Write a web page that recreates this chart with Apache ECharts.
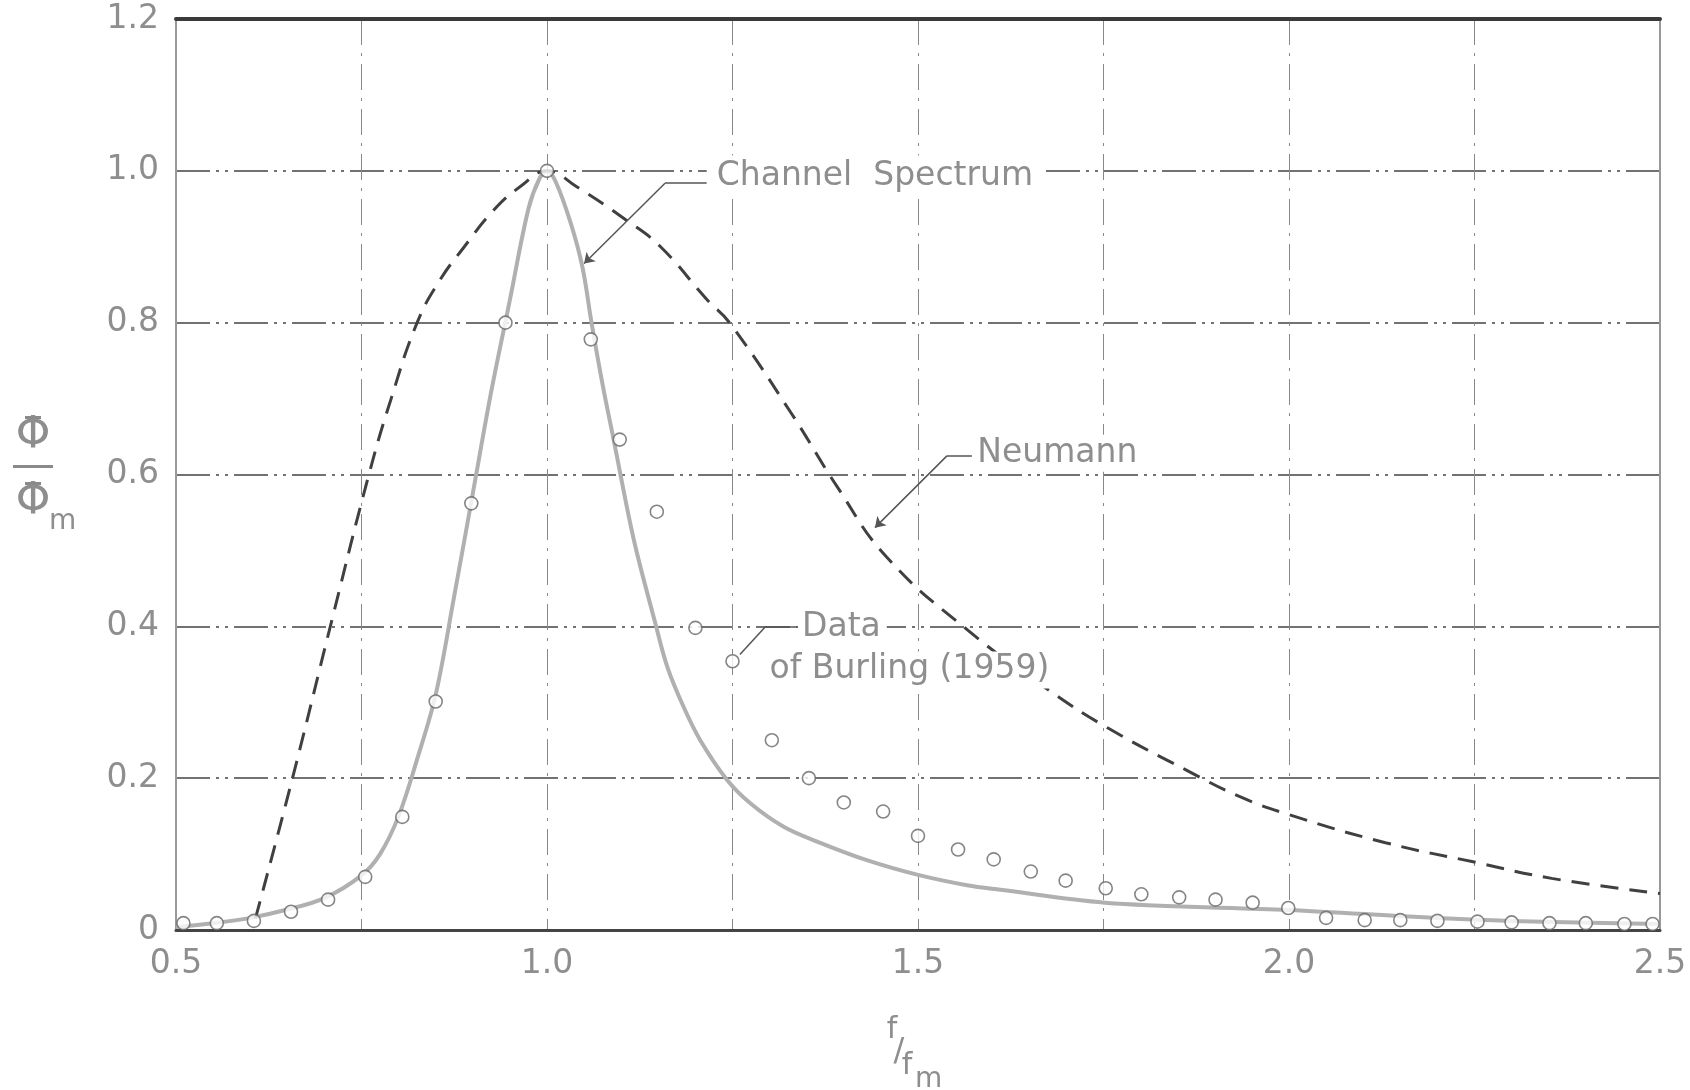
<!DOCTYPE html>
<html lang="en">
<head>
<meta charset="utf-8">
<title>Channel Spectrum</title>
<script src="https://cdn.jsdelivr.net/npm/echarts@6/dist/echarts.min.js"></script>
<style>
  html, body { margin: 0; padding: 0; background: #fff; }
  #chart { width: 1690px; height: 1090px; }
</style>
</head>
<body>
<div id="chart"></div>
<script>
// 横軸の目盛りラベルを表示する値
const xLabelValues = [0.5, 1.0, 1.5, 2.0, 2.5];

// 縦軸の目盛りラベル
const yLabelValues = [0, 0.2, 0.4, 0.6, 0.8, 1.0, 1.2];

// Channel Spectrum（実線）
const channelSpectrum = [
  [0.5, 0.004], [0.55, 0.009], [0.6, 0.016], [0.65, 0.027], [0.7, 0.042],
  [0.75, 0.072], [0.775, 0.1], [0.8, 0.15], [0.825, 0.225], [0.85, 0.31],
  [0.875, 0.44], [0.9, 0.575], [0.925, 0.71], [0.95, 0.83], [0.975, 0.95],
  [0.99, 0.99], [1.0, 1.0], [1.012, 0.985], [1.032, 0.931], [1.048, 0.872],
  [1.06, 0.8], [1.075, 0.718], [1.09, 0.645], [1.117, 0.514],
  [1.146, 0.404], [1.162, 0.347], [1.184, 0.294], [1.2065, 0.25], [1.2425, 0.198],
  [1.274, 0.167], [1.319, 0.136], [1.364, 0.1165], [1.431, 0.092], [1.5, 0.0726],
  [1.566, 0.059], [1.611, 0.053], [1.752, 0.036], [1.95, 0.028], [2.0, 0.0265],
  [2.252, 0.0135], [2.5, 0.008]
];

// Neumann（破線）
const neumann = [
  [0.607, 0.015], [0.657, 0.2], [0.708, 0.4], [0.76, 0.6], [0.79, 0.7],
  [0.825, 0.8], [0.855, 0.855], [0.887, 0.898], [0.928, 0.948], [0.965, 0.98],
  [1.0, 1.0], [1.04, 0.979], [1.107, 0.935], [1.153, 0.9], [1.216, 0.83],
  [1.246, 0.8], [1.329, 0.681], [1.391, 0.584], [1.458, 0.491], [1.567, 0.395],
  [1.676, 0.316], [1.756, 0.266], [1.861, 0.211], [1.933, 0.176], [2.0, 0.152],
  [2.13, 0.115], [2.252, 0.089], [2.354, 0.068], [2.5, 0.048]
];

// Burling (1959) の測定データ（白抜きの丸）
const burling = [
  [0.51, 0.009], [0.555, 0.009], [0.605, 0.012], [0.655, 0.024], [0.705, 0.04],
  [0.755, 0.07], [0.805, 0.149], [0.85, 0.301], [0.898, 0.562], [0.944, 0.8],
  [1.0, 1.0], [1.059, 0.778], [1.098, 0.646], [1.148, 0.551], [1.2, 0.398],
  [1.25, 0.354], [1.303, 0.25], [1.353, 0.2], [1.4, 0.168], [1.453, 0.156],
  [1.5, 0.124], [1.554, 0.106], [1.602, 0.093], [1.652, 0.077], [1.699, 0.065],
  [1.753, 0.055], [1.801, 0.047], [1.852, 0.043], [1.901, 0.04], [1.951, 0.036],
  [1.999, 0.029], [2.05, 0.016], [2.102, 0.013], [2.15, 0.013], [2.2, 0.012],
  [2.254, 0.011], [2.3, 0.01], [2.351, 0.009], [2.4, 0.009], [2.452, 0.008],
  [2.49, 0.008]
];

// 注記の文字
const noteTexts = ['Channel  Spectrum', 'Neumann', 'Data', 'of Burling (1959)'];

const labelColor = '#8e8e8e';
const font = 'DejaVu Sans';

const chart = echarts.init(document.getElementById('chart'));

// 注記の文字ラベル（データ座標で置く）
const noteLabel = (coord, text, padding) => ({
  coord: coord,
  symbol: 'circle',
  symbolSize: 1,
  itemStyle: { color: 'rgba(0,0,0,0)' },
  label: {
    show: true,
    position: 'right',
    distance: 0,
    formatter: text,
    fontFamily: font,
    fontSize: 33,
    color: labelColor,
    backgroundColor: '#fff',
    padding: padding
  }
});

// 引き出し線の1区間
const seg = (a, b, arrow) => [
  { coord: a, symbol: 'none' },
  { coord: b, symbol: arrow ? 'arrow' : 'none' }
];

// 軸名の文字
const axisText = (x, y, text, size, align) => ({
  type: 'text',
  x: x,
  y: y,
  style: {
    text: text,
    font: size + 'px "DejaVu Sans"',
    fill: labelColor,
    align: align || 'center',
    verticalAlign: 'middle'
  }
});

const option = {
  animation: false,
  backgroundColor: '#fff',
  grid: { left: 176, right: 30, top: 19, bottom: 160, outerBoundsMode: 'none' },

  xAxis: [
    {
      type: 'value',
      min: 0.5,
      max: 2.5,
      interval: 0.25,
      position: 'bottom',
      axisLine: { show: true, onZero: false, lineStyle: { color: '#444', width: 3 } },
      axisTick: { show: false },
      axisLabel: {
        margin: 18,
        fontFamily: font,
        fontSize: 33,
        color: labelColor,
        showMinLabel: true,
        showMaxLabel: true,
        formatter: v => xLabelValues.some(t => Math.abs(t - v) < 1e-6) ? v.toFixed(1) : ''
      },
      splitLine: { show: true, lineStyle: { color: '#888', width: 1, type: [26, 8, 3, 8] } }
    },
    {
      type: 'value',
      min: 0.5,
      max: 2.5,
      position: 'top',
      axisLine: { show: true, onZero: false, lineStyle: { color: '#3a3a3a', width: 4 } },
      axisTick: { show: false },
      axisLabel: { show: false },
      splitLine: { show: false }
    }
  ],

  yAxis: [
    {
      type: 'value',
      min: 0,
      max: 1.2,
      interval: 0.2,
      axisLine: { show: true, onZero: false, lineStyle: { color: '#999', width: 2 } },
      axisTick: { show: false },
      axisLabel: {
        margin: 17,
        fontFamily: font,
        fontSize: 33,
        color: labelColor,
        formatter: v => {
          const t = yLabelValues.find(y => Math.abs(y - v) < 1e-6);
          if (t === undefined) return '';
          return t === 0 ? '0' : t.toFixed(1);
        }
      },
      splitLine: { show: true, lineStyle: { color: '#444', width: 1.6, type: [34, 6, 3, 6, 3, 6] } }
    },
    {
      type: 'value',
      min: 0,
      max: 1.2,
      position: 'right',
      axisLine: { show: true, onZero: false, lineStyle: { color: '#999', width: 2 } },
      axisTick: { show: false },
      axisLabel: { show: false },
      splitLine: { show: false }
    }
  ],

  // 軸の名前（縦軸は Φ̄/Φ̄m、横軸は f/fm）
  graphic: [
    axisText(33, 437, 'Φ', 44),
    { type: 'rect', shape: { x: 25, y: 416, width: 16, height: 3 }, style: { fill: '#8a8a8a' } },
    { type: 'rect', shape: { x: 13, y: 465, width: 40, height: 3 }, style: { fill: '#8a8a8a' } },
    axisText(33, 503, 'Φ', 44),
    { type: 'rect', shape: { x: 25, y: 482, width: 16, height: 3 }, style: { fill: '#8a8a8a' } },
    axisText(49, 522, 'm', 28, 'left'),
    axisText(892, 1030, 'f', 30),
    axisText(899, 1052, '/', 32),
    axisText(907, 1066, 'f', 30),
    axisText(915, 1080, 'm', 28, 'left')
  ],

  series: [
    {
      name: 'Channel Spectrum',
      type: 'line',
      data: channelSpectrum,
      smooth: 0.35,
      showSymbol: false,
      lineStyle: { color: '#b0b0b0', width: 4 },
      z: 2
    },
    {
      name: 'Neumann',
      type: 'line',
      data: neumann,
      smooth: 0.45,
      showSymbol: false,
      lineStyle: { color: '#404040', width: 3, type: [18, 11] },
      z: 3
    },
    {
      name: 'Data of Burling (1959)',
      type: 'scatter',
      data: burling,
      symbol: 'circle',
      symbolSize: 13,
      itemStyle: { color: '#fff', borderColor: '#666', borderWidth: 1.6 },
      z: 4
    },
    {
      // 注記と引き出し線
      name: 'notes',
      type: 'line',
      data: [],
      z: 5,
      markLine: {
        silent: true,
        symbol: ['none', 'none'],
        symbolSize: 10,
        label: { show: false },
        lineStyle: { color: '#555', width: 1.5, type: 'solid' },
        data: [
          seg([1.2155, 0.9837], [1.159, 0.9837]),
          seg([1.159, 0.9837], [1.05, 0.878], true),
          seg([1.5726, 0.6245], [1.539, 0.6245]),
          seg([1.539, 0.6245], [1.442, 0.53], true),
          seg([1.3376, 0.399], [1.294, 0.399]),
          seg([1.294, 0.399], [1.26, 0.363])
        ]
      },
      markPoint: {
        silent: true,
        data: [
          noteLabel([1.2146, 0.9932], noteTexts[0], [4, 10, 4, 10]),
          noteLabel([1.5765, 0.628], noteTexts[1], [2, 4, 2, 2]),
          noteLabel([1.3376, 0.3986], noteTexts[2], [2, 6, 2, 4]),
          noteLabel([1.2992, 0.3426], noteTexts[3], [2, 4, 2, 0])
        ]
      }
    }
  ]
};

chart.setOption(option);
</script>
</body>
</html>
